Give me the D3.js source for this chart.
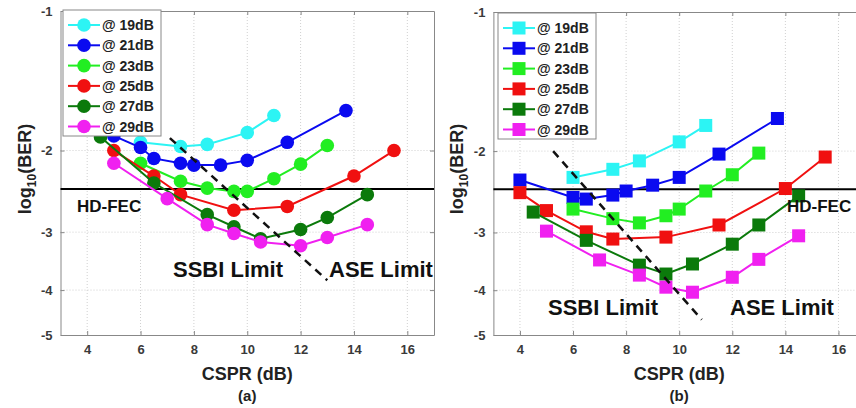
<!DOCTYPE html>
<html>
<head>
<meta charset="utf-8">
<script src="https://cdn.jsdelivr.net/npm/d3@7"></script>
<style>
  body { margin: 0; background: #fff; }
  svg { display: block; font-family: Arial, "Liberation Sans", sans-serif; }
</style>
</head>
<body>
<div id="chart"></div>
<script>
const width = 856;
const height = 408;

// legend labels (received optical power) and colours
const osnrLabels = ["@ 19dB", "@ 21dB", "@ 23dB", "@ 25dB", "@ 27dB", "@ 29dB"];
const seriesColors = ["#2cf4f4", "#0a0af0", "#22ee22", "#f01010", "#0b7a0b", "#f020f0"];

const xTicks = [4, 6, 8, 10, 12, 14, 16];
const yTicks = [-1, -2, -3, -4, -5];
const hdFec = -2.42;

// panel (a): CSPR values and log10(BER) for each series
const csprA = [
  [6, 7.5, 8.5, 10, 11],
  [5, 6, 6.5, 7.5, 8, 9, 10, 11.5, 13.7],
  [6, 7.5, 8.5, 9.5, 10, 11, 12, 13],
  [5, 6.5, 7.5, 9.5, 11.5, 14, 15.5],
  [4.5, 6.5, 8.5, 9.5, 10.5, 12, 13, 14.5],
  [5, 7, 8.5, 9.5, 10.5, 12, 13, 14.5]
];
const berA = [
  [-1.92, -1.96, -1.94, -1.83, -1.68],
  [-1.86, -1.97, -2.08, -2.13, -2.15, -2.15, -2.10, -1.92, -1.64],
  [-2.13, -2.33, -2.41, -2.45, -2.45, -2.30, -2.14, -1.95],
  [-2.0, -2.27, -2.49, -2.69, -2.64, -2.27, -2.0],
  [-1.87, -2.35, -2.75, -2.92, -3.10, -2.96, -2.79, -2.49],
  [-2.13, -2.54, -2.89, -3.02, -3.15, -3.21, -3.08, -2.89]
];

// panel (b)
const csprB = [
  [6, 7.5, 8.5, 10, 11],
  [4, 6, 6.5, 7.5, 8, 9, 10, 11.5, 13.7],
  [6, 7.5, 8.5, 9.5, 10, 11, 12, 13],
  [4, 5, 6.5, 7.5, 9.5, 11.5, 14, 15.5],
  [4.5, 6.5, 8.5, 9.5, 10.5, 12, 13, 14.5],
  [5, 7, 8.5, 9.5, 10.5, 12, 13, 14.5]
];
const berB = [
  [-2.28, -2.19, -2.10, -1.91, -1.76],
  [-2.31, -2.52, -2.54, -2.49, -2.44, -2.37, -2.28, -2.03, -1.70],
  [-2.67, -2.80, -2.86, -2.76, -2.67, -2.44, -2.25, -2.02],
  [-2.46, -2.69, -2.99, -3.10, -3.07, -2.89, -2.41, -2.06],
  [-2.71, -3.12, -3.53, -3.69, -3.51, -3.18, -2.89, -2.50],
  [-2.98, -3.44, -3.71, -3.94, -4.04, -3.75, -3.43, -3.05]
];

// dashed SSBI/ASE boundary end points [cspr, log10(BER)]
const limitA = [[7.1, -1.88], [13.0, -3.81]];
const limitB = [[5.25, -2.0], [10.85, -4.63]];

const svg = d3.select("#chart")
    .append("svg")
    .attr("width", width)
    .attr("height", height);

function drawPanel(p) {
    const x = d3.scaleLinear().domain([3, 17]).range([p.left, p.right]);
    const yLog = d3.scaleLog().domain([1, 5]).range([p.top, p.bottom]);
    const y = v => yLog(-v);
    const g = svg.append("g");

    // grid
    g.selectAll(".vgrid").data(xTicks).enter().append("line")
        .attr("x1", d => x(d)).attr("x2", d => x(d))
        .attr("y1", p.top).attr("y2", p.bottom)
        .attr("stroke", "#d0d0d0").attr("stroke-dasharray", "1,2");
    g.selectAll(".hgrid").data(yTicks.slice(1, 4)).enter().append("line")
        .attr("x1", p.left).attr("x2", p.right)
        .attr("y1", d => y(d)).attr("y2", d => y(d))
        .attr("stroke", "#d0d0d0").attr("stroke-dasharray", "1,2");

    // axes box
    g.append("g").attr("transform", `translate(0,${p.bottom})`)
        .call(d3.axisBottom(x).tickValues(xTicks).tickSizeInner(-4).tickSizeOuter(0).tickPadding(10));
    g.append("g").attr("transform", `translate(0,${p.top})`)
        .call(d3.axisTop(x).tickValues(xTicks).tickSizeInner(-4).tickSizeOuter(0).tickFormat(""));
    g.append("g").attr("transform", `translate(${p.left},0)`)
        .call(d3.axisLeft(yLog).tickValues([1, 2, 3, 4, 5]).tickFormat(d => "-" + d)
            .tickSizeInner(-4).tickSizeOuter(0).tickPadding(8));
    g.append("g").attr("transform", `translate(${p.right},0)`)
        .call(d3.axisRight(yLog).tickValues([1, 2, 3, 4, 5]).tickFormat("")
            .tickSizeInner(-4).tickSizeOuter(0));
    g.selectAll(".domain, .tick line").attr("stroke", "#888");
    g.selectAll(".tick text")
        .style("font-size", "13px")
        .style("font-weight", "bold")
        .attr("fill", "#3a3a3a");

    // HD-FEC threshold
    g.append("line")
        .attr("x1", p.left).attr("x2", p.right)
        .attr("y1", y(hdFec)).attr("y2", y(hdFec))
        .attr("stroke", "#000").attr("stroke-width", 2);

    // series
    const line = d3.line().x(d => x(d[0])).y(d => y(d[1]));
    p.cspr.forEach((xs, i) => {
        const pts = xs.map((v, j) => [v, p.ber[i][j]]);
        g.append("path").datum(pts)
            .attr("d", line)
            .attr("fill", "none")
            .attr("stroke", seriesColors[i])
            .attr("stroke-width", 2);
        drawMarkers(g, pts.map(d => [x(d[0]), y(d[1])]), seriesColors[i], p.square);
    });

    // limit line
    g.append("path").datum(p.limit)
        .attr("d", line)
        .attr("fill", "none")
        .attr("stroke", "#111")
        .attr("stroke-width", 2.5)
        .attr("stroke-dasharray", "8,6");

    // labels
    const label = (tx, ty, txt, size) => g.append("text")
        .attr("x", tx).attr("y", ty)
        .style("font-size", size + "px")
        .style("font-weight", "bold")
        .attr("fill", "#111")
        .text(txt);
    label(p.fecX, p.fecY, "HD-FEC", 17);
    label(p.ssbiX, p.limY, "SSBI Limit", 22);
    label(p.aseX, p.limY, "ASE Limit", 22);

    // legend
    const lg = g.append("g").attr("transform", `translate(${p.legX},${p.legY})`);
    lg.append("rect")
        .attr("width", 98).attr("height", 126)
        .attr("fill", "#fff")
        .attr("stroke", "#888");
    osnrLabels.forEach((lab, i) => {
        const ly = 15 + i * 20.3;
        lg.append("line")
            .attr("x1", 5).attr("x2", 37)
            .attr("y1", ly).attr("y2", ly)
            .attr("stroke", seriesColors[i]).attr("stroke-width", 2);
        drawMarkers(lg, [[21, ly]], seriesColors[i], p.square);
        lg.append("text")
            .attr("x", 39).attr("y", ly + 5)
            .style("font-size", "14px")
            .style("font-weight", "bold")
            .attr("fill", "#222")
            .text(lab);
    });

    // axis titles
    g.append("text")
        .attr("x", x(10)).attr("y", 380)
        .attr("text-anchor", "middle")
        .style("font-size", "18px")
        .style("font-weight", "bold")
        .attr("fill", "#222")
        .text("CSPR (dB)");
    g.append("text")
        .attr("x", x(10)).attr("y", 401)
        .attr("text-anchor", "middle")
        .style("font-size", "15px")
        .style("font-weight", "bold")
        .attr("fill", "#222")
        .text(p.tag);
    const yt = g.append("text")
        .attr("transform", `translate(${p.left - 30},169) rotate(-90)`)
        .attr("text-anchor", "middle")
        .style("font-size", "18px")
        .style("font-weight", "bold")
        .attr("fill", "#222");
    yt.append("tspan").text("log");
    yt.append("tspan").attr("dy", 5).style("font-size", "12px").text("10");
    yt.append("tspan").attr("dy", -5).text("(BER)");
}

function drawMarkers(g, pts, color, square) {
    if (square) {
        g.selectAll(null).data(pts).enter().append("rect")
            .attr("x", d => d[0] - 6.5).attr("y", d => d[1] - 6.5)
            .attr("width", 13).attr("height", 13)
            .attr("fill", color);
    } else {
        g.selectAll(null).data(pts).enter().append("circle")
            .attr("cx", d => d[0]).attr("cy", d => d[1])
            .attr("r", 6.8)
            .attr("fill", color);
    }
}

drawPanel({
    left: 60.5, right: 434, top: 11, bottom: 335,
    cspr: csprA, ber: berA, limit: limitA, square: false,
    fecX: 77, fecY: 212, ssbiX: 173, aseX: 329, limY: 277,
    legX: 63, legY: 10, tag: "(a)"
});
drawPanel({
    left: 493.4, right: 865, top: 12, bottom: 335,
    cspr: csprB, ber: berB, limit: limitB, square: true,
    fecX: 787, fecY: 212, ssbiX: 548, aseX: 730, limY: 315,
    legX: 498, legY: 13, tag: "(b)"
});
</script>
</body>
</html>
